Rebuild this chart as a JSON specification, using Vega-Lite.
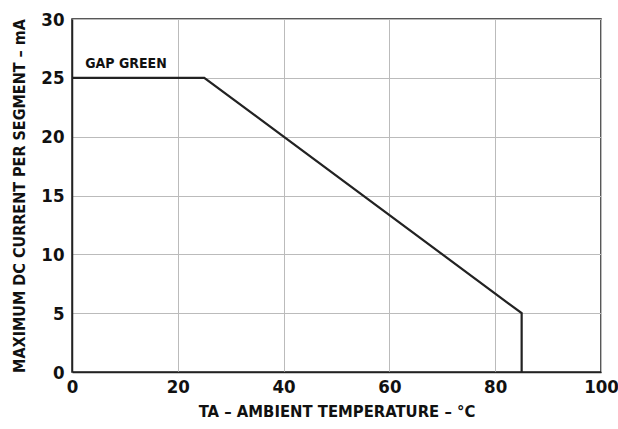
{
  "$schema": "https://vega.github.io/schema/vega-lite/v6.json",
  "autosize": {"type": "none"},
  "width": 529,
  "height": 353,
  "padding": {"left": 72, "top": 19, "right": 17, "bottom": 57},
  "background": "white",
  "config": {
    "view": {"stroke": "#222", "strokeWidth": 1.5},
    "font": "DejaVu Sans Condensed, Liberation Sans, sans-serif",
    "axis": {
      "labelFont": "DejaVu Sans Condensed, Liberation Sans, sans-serif",
      "titleFont": "DejaVu Sans Condensed, Liberation Sans, sans-serif",
      "labelFontWeight": "bold",
      "titleFontWeight": "bold",
      "labelColor": "#111",
      "titleColor": "#111",
      "gridColor": "#bbbbbb",
      "gridWidth": 1,
      "ticks": false,
      "domainColor": "#222",
      "domainWidth": 1.5
    }
  },
  "datasets": {
    "curve": [
      {"t": 0, "i": 25},
      {"t": 25, "i": 25},
      {"t": 85, "i": 5},
      {"t": 85, "i": 0}
    ],
    "label": [{"t": 2.5, "i": 25, "text": "GAP GREEN"}]
  },
  "layer": [
    {
      "data": {"name": "curve"},
      "mark": {"type": "line", "color": "#222", "strokeWidth": 2.2},
      "encoding": {
        "x": {
          "field": "t", "type": "quantitative",
          "scale": {"domain": [0, 100], "nice": false},
          "axis": {"values": [0, 20, 40, 60, 80, 100], "labelFontSize": 18.5, "labelPadding": 5, "title": "TA – AMBIENT TEMPERATURE – °C", "titleFontSize": 16.5, "titlePadding": 8, "labelFlush": false}
        },
        "y": {
          "field": "i", "type": "quantitative",
          "scale": {"domain": [0, 30], "nice": false},
          "axis": {"values": [0, 5, 10, 15, 20, 25, 30], "labelFontSize": 18.5, "labelPadding": 8, "title": "MAXIMUM DC CURRENT PER SEGMENT – mA", "titleFontSize": 16, "titlePadding": 13}
        },
        "order": {"field": "t", "type": "quantitative"}
      }
    },
    {
      "data": {"name": "label"},
      "mark": {"type": "text", "align": "left", "baseline": "bottom", "dy": -7, "fontSize": 14, "fontWeight": "bold", "font": "DejaVu Sans Condensed, Liberation Sans, sans-serif", "color": "#111"},
      "encoding": {
        "x": {"field": "t", "type": "quantitative"},
        "y": {"field": "i", "type": "quantitative"},
        "text": {"field": "text"}
      }
    }
  ]
}
